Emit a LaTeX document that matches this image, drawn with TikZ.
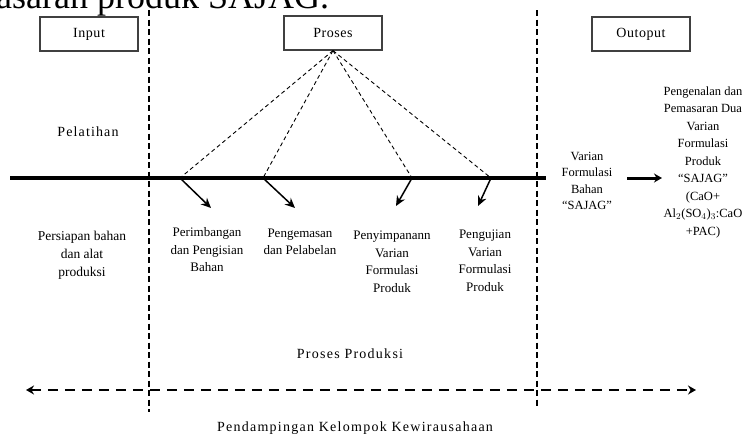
\documentclass[tikz,border=0pt]{standalone}
\usepackage{fontspec}
\setmainfont{Liberation Serif}
\usetikzlibrary{arrows.meta}

\tikzset{
  lbl/.style={align=center,inner sep=0pt,font=\fontsize{13}{17.5}\selectfont},
  wide/.style={align=center,inner sep=0pt,font=\fontsize{14}{17.5}\selectfont\addfontfeatures{LetterSpace=9}},
  hbox/.style={draw=black!75,line width=1.2pt,minimum width=98pt,minimum height=34pt,font=\fontsize{14}{15}\selectfont\addfontfeatures{LetterSpace=4}},
  divider/.style={line width=1.6pt,dash pattern=on 6pt off 3.5pt},
  guide/.style={line width=0.9pt,dash pattern=on 4pt off 3pt},
  stp/.style={line width=1.5pt,-{Stealth[length=10pt,width=9pt]}}
}

\begin{document}
\begin{tikzpicture}[x=1pt,y=-1pt]
\useasboundingbox (0,0) rectangle (745,439);
\begin{scope}
\clip (0,0) rectangle (745,439);
\node[anchor=base west,inner sep=0pt,font=\fontsize{36}{36}\selectfont] (head) at (-4,9) {asaran produk SAJAG.};
\end{scope}

% header boxes
\node[hbox] (input) at (89,34) {Input};
\node[hbox] (proses) at (333,33) {Proses};
\node[hbox] (output) at (641,34) {Outoput};

% stage dividers
\coordinate (d1t) at (149,10); \coordinate (d1b) at (149,412);
\coordinate (d2t) at (537,10); \coordinate (d2b) at (537,406);
\draw[divider] (d1t) -- (d1b);
\draw[divider] (d2t) -- (d2b);

% main line
\coordinate (sl) at (10,178); \coordinate (sr) at (546,178);
\draw[line width=4.5pt] (sl) -- (sr);

\coordinate (p1) at (180,178); \coordinate (e1) at (211,208);
\coordinate (p2) at (263,178); \coordinate (e2) at (295,208);
\coordinate (p3) at (412,178); \coordinate (e3) at (396,206);
\coordinate (p4) at (491,178); \coordinate (e4) at (478,206);
\foreach \i in {1,...,4}{
  \draw[guide] (proses.south) -- (p\i);
  \draw[stp] (p\i) -- (e\i);
}

\node[wide,font=\fontsize{14}{17}\selectfont\addfontfeatures{LetterSpace=8}] (latih) at (88,132) {Pelatihan};
\node[lbl,font=\fontsize{13.5}{18}\selectfont] (siap) at (82,255) {Persiapan bahan\\dan alat\\produksi};
\node[lbl] (timbang) at (207,250) {Perimbangan\\dan Pengisian\\Bahan};
\node[lbl] (kemas) at (300,242) {Pengemasan\\dan Pelabelan};
\node[lbl] (simpan) at (392,262) {Penyimpanann\\Varian\\Formulasi\\Produk};
\node[lbl] (uji) at (485,261) {Pengujian\\Varian\\Formulasi\\Produk};
\node[lbl,font=\fontsize{12.5}{16.5}\selectfont] (varian) at (587,181) {Varian\\Formulasi\\Bahan\\``SAJAG''};
\node[lbl,font=\fontsize{12.5}{17.5}\selectfont] (kenal) at (703,162) {Pengenalan dan\\Pemasaran Dua\\Varian\\Formulasi\\Produk\\``SAJAG''\\(CaO+\\Al$_2$(SO$_4$)$_3$:CaO\\+PAC)};
\coordinate (a1) at (627,178); \coordinate (a2) at (662,178);
\draw[line width=3pt,-{Stealth[length=8pt,width=9pt]}] (a1) -- (a2);

\node[wide] (prod) at (350,354) {Proses Produksi};
\coordinate (bl) at (26,390); \coordinate (br) at (696,390);
\draw[line width=2.6pt,dash pattern=on 10pt off 7pt,{Stealth[length=8pt,width=9pt]}-{Stealth[length=8pt,width=9pt]}] (bl) -- (br);
\node[wide] (damping) at (355,428) {Pendampingan Kelompok Kewirausahaan};
\end{tikzpicture}
\end{document}
